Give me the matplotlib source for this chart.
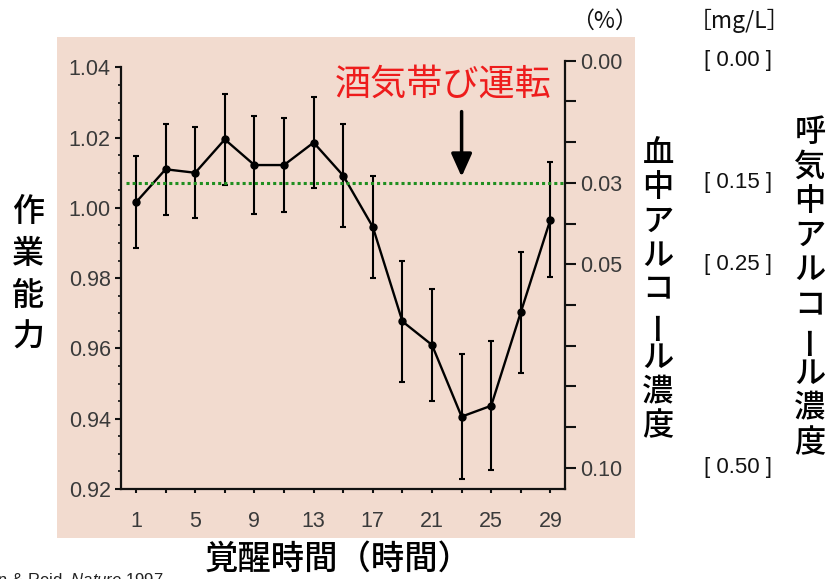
import matplotlib
matplotlib.use("Agg")
import matplotlib.pyplot as plt
import matplotlib.transforms as mtransforms
from matplotlib.patches import Rectangle
from matplotlib.ticker import MultipleLocator
import numpy as np

plt.rcParams["mathtext.fontset"] = "custom"
plt.rcParams["mathtext.rm"] = "Liberation Sans"
plt.rcParams["mathtext.it"] = "Liberation Sans:italic"

CJK = ["Noto Sans CJK JP", "DejaVu Sans"]
LATIN = ["Liberation Sans", "DejaVu Sans"]
CJK_WEIGHT = "medium"

# Hours awake and relative performance (mean ± error)
hours = [1, 3, 5, 7, 9, 11, 13, 15, 17, 19, 21, 23, 25, 27, 29]
performance = [1.0016, 1.011, 1.010, 1.0195, 1.0122, 1.0122, 1.0186, 1.0092,
               0.9946, 0.9677, 0.961, 0.9406, 0.9437, 0.9703, 0.9967]
perf_error = [0.0131, 0.013, 0.013, 0.013, 0.014, 0.0135, 0.013, 0.0146,
              0.0145, 0.0172, 0.016, 0.0177, 0.0183, 0.0172, 0.0165]

x_tick_labels = ["1", "", "5", "", "9", "", "13", "", "17", "", "21", "", "25", "", "29"]
perf_ticks = [0.92, 0.94, 0.96, 0.98, 1.00, 1.02, 1.04]
perf_tick_labels = ["0.92", "0.94", "0.96", "0.98", "1.00", "1.02", "1.04"]

# Blood alcohol concentration (%) scale and matching breath alcohol (mg/L)
bac_ticks = [0.00, 0.01, 0.02, 0.03, 0.04, 0.05, 0.06, 0.07, 0.08, 0.09, 0.10]
bac_tick_labels = ["0.00", "", "", "0.03", "", "0.05", "", "", "", "", "0.10"]
bac_limit = 0.03
breath_bac = [0.00, 0.03, 0.05, 0.10]
breath_labels = ["[ 0.00 ]", "[ 0.15 ]", "[ 0.25 ]", "[ 0.50 ]"]

W, H = 832, 579
fig = plt.figure(figsize=(W / 100, H / 100), dpi=100)


def fx(px):
    return px / W


def fy(py):
    return 1 - py / H


# Beige panel behind the chart
fig.patches.append(Rectangle((fx(57), fy(538)), fx(635) - fx(57), fy(37) - fy(538),
                             transform=fig.transFigure, facecolor="#f2dbcf",
                             edgecolor="none", zorder=-10))

ax = fig.add_axes([fx(121.2), fy(489), fx(565.2) - fx(121.2), fy(60.7) - fy(489)])
ax.patch.set_visible(False)
ax.set_xlim(0, 30)
ax.set_ylim(0.92, 1.0419)
for s in ["top", "right"]:
    ax.spines[s].set_visible(False)
ax.spines["left"].set_bounds(0.92, 1.04)
for s in ["left", "bottom"]:
    ax.spines[s].set_linewidth(1.6)
    ax.spines[s].set_color("#111111")

ax.set_yticks(perf_ticks)
ax.set_yticklabels(perf_tick_labels, family=LATIN)
ax.yaxis.set_minor_locator(MultipleLocator(0.005))
ax.tick_params(axis="y", which="major", length=4, width=1.5, pad=3.5,
               labelsize=15.5, labelcolor="#3a3a3a", color="#111111")
ax.tick_params(axis="y", which="minor", length=2, width=1.2, color="#111111")
ax.set_xticks(hours)
ax.set_xticklabels(x_tick_labels, family=LATIN)
ax.tick_params(axis="x", length=3, width=1.5, pad=13, labelsize=15.5,
               labelcolor="#3a3a3a", color="#111111")

ax.errorbar(hours, performance, yerr=perf_error, fmt="-o", color="black",
            lw=1.7, ms=5, capsize=2.5, capthick=1.5, elinewidth=1.5, zorder=3)

ax2 = ax.twinx()
ax2.set_ylim(0.1052, 0.0)
for s in ["top", "left", "bottom"]:
    ax2.spines[s].set_visible(False)
ax2.spines["right"].set_linewidth(1.6)
ax2.spines["right"].set_color("#111111")
ax2.set_yticks(bac_ticks)
ax2.set_yticklabels(bac_tick_labels, family=LATIN)
ax2.tick_params(axis="y", length=8, width=1.5, pad=3, labelsize=15.5,
                labelcolor="#3a3a3a", color="#111111")

# Legal limit line at 0.03 %
ax2.plot([0.35, 30], [bac_limit, bac_limit], color="#1f8f1f", lw=2.2,
         linestyle=(0, (1, 1)), zorder=2)

ax2.annotate("", xy=(23, 0.0285), xytext=(23, 0.0125),
             arrowprops=dict(arrowstyle="-|>,head_length=1.0,head_width=0.45",
                             mutation_scale=14, lw=2.5, color="black",
                             shrinkA=0, shrinkB=0))
ax2.text(21.74, 0.0062, "酒気帯び運転", color="#ee1c1c", fontsize=26,
         ha="center", va="center", family=CJK)

# Breath alcohol equivalents beside the % scale
blend = mtransforms.blended_transform_factory(fig.transFigure, ax2.transData)
for v, lab in zip(breath_bac, breath_labels):
    ax2.text(fx(738), v, lab, transform=blend, ha="center", va="center",
             fontsize=16, family=LATIN, color="#111111", clip_on=False)

fig.text(fx(604), fy(21), "（%）", ha="center", va="center", fontsize=16.5,
         family=CJK, color="#111111")
fig.text(fx(739), fy(21), "［mg/L］", ha="center", va="center", fontsize=16.5,
         family=CJK, color="#111111")


def vertical_text(text, x, y0, pitch, size):
    for i, ch in enumerate(text):
        rot = 90 if ch == "ー" else 0
        fig.text(fx(x), fy(y0 + i * pitch), ch, ha="center", va="center",
                 rotation=rot, fontsize=size, family=CJK,
                 fontweight=CJK_WEIGHT, color="black")


vertical_text("作業能力", 28, 212, 42, 23)
vertical_text("血中アルコール濃度", 658, 153, 34.2, 22.5)
vertical_text("呼気中アルコール濃度", 810, 132, 34.6, 22.5)

fig.text(fx(338), fy(559), "覚醒時間（時間）", ha="center", va="center",
         fontsize=24, family=CJK, fontweight=CJK_WEIGHT, color="black")

fig.text(fx(163), fy(585), r"Dawson & Reid, $\mathit{Nature}$ 1997", ha="right",
         va="baseline", fontsize=12, family=LATIN, color="#222222")

fig.savefig("out.png", dpi=100)
